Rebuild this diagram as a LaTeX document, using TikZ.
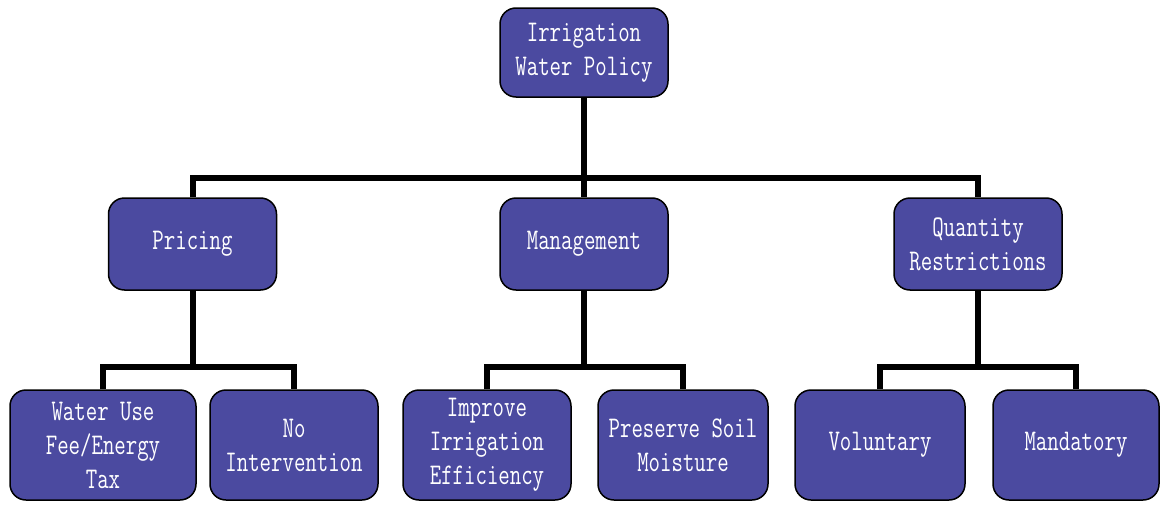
\documentclass[tikz,border=0pt]{standalone}
\usepackage{fontspec}
\newfontfamily\boxfont[FakeStretch=0.74]{Latin Modern Mono}
\usetikzlibrary{positioning}
\definecolor{boxblue}{RGB}{75,74,160}

\begin{document}
\begin{tikzpicture}[
    x=1pt, y=-1pt,
    box/.style={draw=black, line width=1.5pt, rounded corners=16pt, fill=boxblue, text=white,
      align=center, minimum width=168pt, minimum height=92pt, inner sep=2pt,
      font=\boxfont\fontsize{30}{34}\selectfont},
    leaf/.style={box, minimum height=110pt},
    link/.style={line width=6pt, line join=miter},
  ]
  \useasboundingbox (0,0) rectangle (1160,506);
  % Top
  \node[box, minimum height=89pt] (policy) at (584,52.5) {Irrigation\\Water Policy};
  % Middle row
  \node[box] (pricing) at (192.5,244) {Pricing};
  \node[box] (manage) at (584,244) {Management};
  \node[box] (quantity) at (978,244) {Quantity\\Restrictions};
  % Bottom row
  \node[leaf, minimum width=186pt] (fee) at (103,445) {Water Use\\Fee/Energy\\Tax};
  \node[leaf] (nointerv) at (294,445) {No\\Intervention};
  \node[leaf] (improve) at (487,445) {Improve\\Irrigation\\Efficiency};
  \node[leaf, minimum width=170pt] (preserve) at (683,445) {Preserve Soil\\Moisture};
  \node[leaf, minimum width=170pt] (voluntary) at (880,445) {Voluntary};
  \node[leaf, minimum width=166pt] (mandatory) at (1076,445) {Mandatory};
  % Connectors
  \coordinate (hub) at (584,178);
  \coordinate (pbar) at (192.5,367);
  \coordinate (mbar) at (584,367);
  \coordinate (qbar) at (978,367);
  \draw[link] (policy.south) -- (hub);
  \draw[link] (pricing.north) |- (hub) -| (quantity.north);
  \draw[link] (hub) -- (manage.north);
  \draw[link] (pricing.south) -- (pbar);
  \draw[link] (fee.north) |- (pbar) -| (nointerv.north);
  \draw[link] (manage.south) -- (mbar);
  \draw[link] (improve.north) |- (mbar) -| (preserve.north);
  \draw[link] (quantity.south) -- (qbar);
  \draw[link] (voluntary.north) |- (qbar) -| (mandatory.north);
\end{tikzpicture}
\end{document}
